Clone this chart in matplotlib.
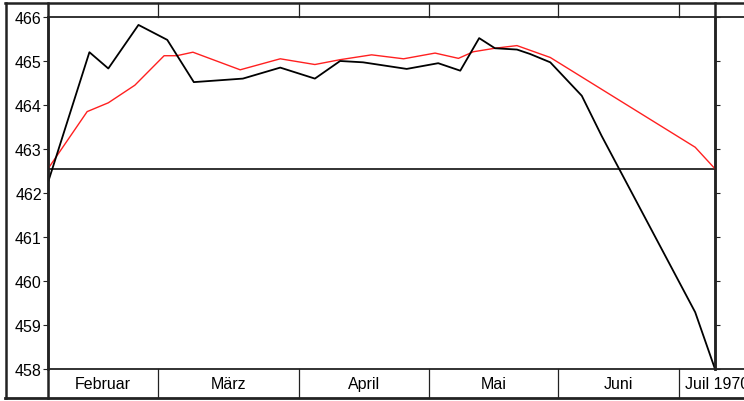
import matplotlib
matplotlib.use("Agg")
import matplotlib.pyplot as plt
from matplotlib.lines import Line2D
import matplotlib.transforms as mtransforms

plt.rcParams["font.family"] = ["Liberation Sans", "DejaVu Sans"]

# ── Data (x in days from left edge of chart, ~1 Feb 1970) ──────────────────
black_x = [0, 9.2, 13.4, 20.1, 26.5, 32.4, 43.3, 51.6, 59.3, 64.9, 70.0,
           79.7, 86.7, 91.6, 95.8, 99.3, 104.2, 107.1, 111.6, 118.6, 123.0,
           127.1, 143.8, 148.2]
black_y = [462.24, 465.20, 464.83, 465.82, 465.48, 464.52, 464.60, 464.85,
           464.60, 465.00, 464.97, 464.82, 464.95, 464.78, 465.52, 465.29,
           465.26, 465.16, 464.97, 464.21, 463.30, 462.51, 459.29, 458.00]

red_x = [0, 8.7, 13.4, 19.3, 25.8, 28.6, 32.2, 42.7, 51.6, 59.3, 64.9,
         71.9, 79.0, 86.0, 91.2, 94.5, 99.3, 104.2, 111.6, 143.8, 148.2]
red_y = [462.55, 463.85, 464.05, 464.45, 465.12, 465.12, 465.20, 464.80,
         465.05, 464.92, 465.03, 465.14, 465.05, 465.18, 465.06, 465.21,
         465.29, 465.35, 465.08, 463.04, 462.55]

ref_level = 462.55

month_labels = ["Februar", "März", "April", "Mai", "Juni", "Juil 1970"]
month_edges = [0, 24.4, 55.8, 84.7, 113.3, 140.2]
x_end = 148.2
y_ticks = [458, 459, 460, 461, 462, 463, 464, 465, 466]

W, H = 744, 402
fig = plt.figure(figsize=(W / 100, H / 100), dpi=100)
ax = fig.add_axes([48 / W, 32 / H, (715 - 48) / W, (370 - 18) / H])

frame_c = "#222222"

ax.plot(red_x, red_y, color="#ff2020", lw=1.0, zorder=3)
ax.plot(black_x, black_y, color="black", lw=1.3, zorder=4)
ax.axhline(ref_level, color=frame_c, lw=1.3, zorder=2)

ax.set_xlim(0, x_end)
ax.set_ylim(458, 466)
ax.set_yticks(y_ticks)
ax.set_yticklabels([str(v) for v in y_ticks], fontsize=11.5)
ax.set_xticks([])
ax.tick_params(axis="y", direction="out", length=3.5, width=0.8,
               left=True, right=True, labelright=False, pad=1,
               color=frame_c)
for s in ["left", "right"]:
    ax.spines[s].set_linewidth(1.8)
    ax.spines[s].set_color(frame_c)
for s in ["top", "bottom"]:
    ax.spines[s].set_visible(False)

# frame lines in figure pixels
def hline_fig(y_px, x0_px, x1_px, lw):
    fig.add_artist(Line2D([x0_px / W, x1_px / W], [1 - y_px / H, 1 - y_px / H],
                          color=frame_c, lw=lw, transform=fig.transFigure))

def vline_fig(x_px, y0_px, y1_px, lw):
    fig.add_artist(Line2D([x_px / W, x_px / W], [1 - y0_px / H, 1 - y1_px / H],
                          color=frame_c, lw=lw, transform=fig.transFigure))

hline_fig(4, 5, W, 1.8)      # outer top
hline_fig(399, 5, W, 2.0)    # outer bottom
vline_fig(5.5, 4, 399, 1.8)  # outer left
hline_fig(18, 48, W, 1.3)    # top of plot (466)
hline_fig(370, 48, W, 1.3)   # bottom of plot (458)
vline_fig(48, 4, 399, 1.8)   # left axis through the strips
vline_fig(715, 4, 370, 1.8)

# month dividers in the top and bottom strips
trans = mtransforms.blended_transform_factory(ax.transData, ax.transAxes)
y_top0, y_top1 = 1.0, 1 + 14 / 352
y_bot0, y_bot1 = 0.0, -29 / 352
for xe in month_edges[1:]:
    ax.add_line(Line2D([xe, xe], [y_top0, y_top1], transform=trans,
                       color=frame_c, lw=0.9, clip_on=False))
    ax.add_line(Line2D([xe, xe], [y_bot0, y_bot1], transform=trans,
                       color=frame_c, lw=0.9, clip_on=False))

# month labels
y_lab = -14.5 / 352
for i, lab in enumerate(month_labels):
    if i + 1 < len(month_edges):
        xc = (month_edges[i] + month_edges[i + 1]) / 2
        ax.text(xc, y_lab, lab, transform=trans, ha="center", va="center",
                fontsize=11.5, clip_on=False)
    else:
        ax.text(month_edges[i] + 1.3, y_lab, lab, transform=trans,
                ha="left", va="center", fontsize=11.5, clip_on=False)

fig.savefig("out.png", dpi=100)
